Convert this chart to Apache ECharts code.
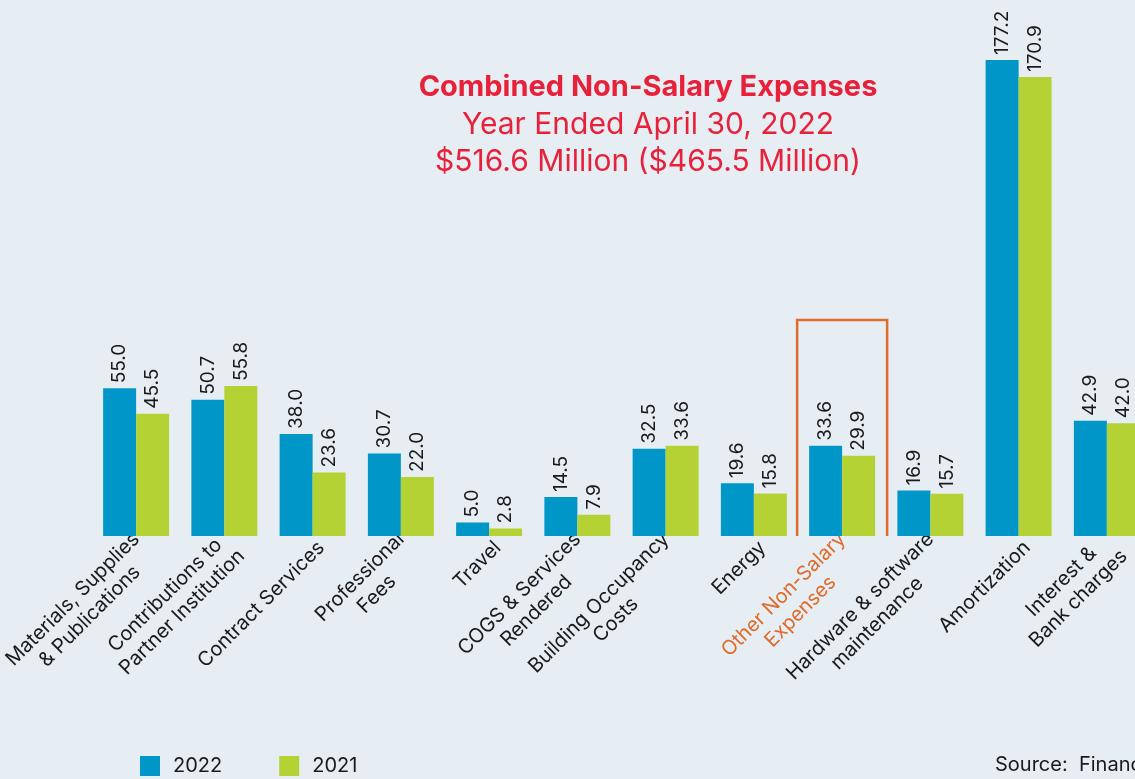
<!DOCTYPE html>
<html>
<head>
<meta charset="utf-8">
<script src="https://cdn.jsdelivr.net/npm/echarts@6/dist/echarts.min.js"></script>
<style>
  html, body { margin: 0; padding: 0; background: #e6eef4; overflow: hidden; }
  #main { width: 1170px; height: 779px; }
</style>
</head>
<body>
<div id="main"></div>
<script>
var categories = [
    'Materials, Supplies\n& Publications',
    'Contributions to\nPartner Institution',
    'Contract Services',
    'Professional\nFees',
    'Travel',
    'COGS & Services\nRendered',
    'Building Occupancy\nCosts',
    'Energy',
    'Other Non-Salary\nExpenses',
    'Hardware & software\nmaintenance',
    'Amortization',
    'Interest &\nBank charges'
];
var values2022 = [55.0, 50.7, 38.0, 30.7, 5.0, 14.5, 32.5, 19.6, 33.6, 16.9, 177.2, 42.9];
var values2021 = [45.5, 55.8, 23.6, 22.0, 2.8, 7.9, 33.6, 15.8, 29.9, 15.7, 170.9, 42.0];
var highlightIndex = 8;

var FONT = 'Inter, "Liberation Sans", sans-serif';
var BLUE = '#0096c8';
var GREEN = '#b4d234';
var ORANGE = '#e06b2a';
var RED = '#e8213a';

var chartDom = document.getElementById('main');
var myChart = echarts.init(chartDom);

// 柱顶的数值标签，竖排
var valueLabel = {
    show: true,
    position: 'top',
    rotate: 90,
    align: 'left',
    verticalAlign: 'middle',
    distance: 5,
    fontSize: 19,
    fontFamily: FONT,
    color: '#1a1a1a',
    formatter: p => p.value.toFixed(1)
};

var option = {
    backgroundColor: '#e6eef4',
    textStyle: { fontFamily: FONT },
    title: {
        text: 'Combined Non-Salary Expenses',
        subtext: 'Year Ended April 30, 2022\n$516.6 Million ($465.5 Million)',
        left: 643,
        top: 68,
        textAlign: 'center',
        itemGap: 4,
        textStyle: { color: RED, fontSize: 29, fontWeight: 'bold', fontFamily: FONT },
        subtextStyle: { color: RED, fontSize: 30, lineHeight: 37, fontFamily: FONT }
    },
    legend: {
        left: 140,
        top: 756,
        padding: 0,
        itemWidth: 20,
        itemHeight: 20,
        itemGap: 57,
        icon: 'rect',
        textStyle: { fontSize: 20, color: '#1a1a1a', padding: [0, 0, 0, 8], fontFamily: FONT },
        data: ['2022', '2021']
    },
    grid: {
        left: 92,
        width: 1059,
        top: 60,
        bottom: 243,
        containLabel: false,
        outerBoundsMode: 'none'
    },
    xAxis: {
        type: 'category',
        data: categories,
        axisLine: { show: false },
        axisTick: { show: false },
        axisLabel: {
            interval: 0,
            rotate: 45,
            margin: 0,
            // 斜排标签整体往右挪一点
            padding: [24, 0, 0, 0],
            fontSize: 20,
            color: '#1a1a1a',
            lineHeight: 24,
            formatter: (v, i) => {
                var key = i === highlightIndex ? 'o' : 'a';
                return v.split('\n').map(s => '{' + key + '|' + s + '}').join('\n');
            },
            rich: {
                a: { align: 'center', fontSize: 20, color: '#1a1a1a', fontFamily: FONT, lineHeight: 24 },
                o: { align: 'center', fontSize: 20, color: ORANGE, fontFamily: FONT, lineHeight: 24 }
            }
        }
    },
    yAxis: {
        type: 'value',
        min: 0,
        max: 177.2,
        show: false,
        splitLine: { show: false }
    },
    series: [
        {
            name: '2022',
            type: 'bar',
            data: values2022,
            barWidth: 33,
            barGap: '0%',
            itemStyle: { color: BLUE },
            label: valueLabel
        },
        {
            name: '2021',
            type: 'bar',
            data: values2021,
            barWidth: 33,
            barGap: '0%',
            itemStyle: { color: GREEN },
            label: valueLabel
        }
    ]
};

myChart.setOption(option);

// 用坐标换算画出“Other Non-Salary Expenses”外面的橙色框
var cx = myChart.convertToPixel({ xAxisIndex: 0 }, categories[highlightIndex]);
var y0 = myChart.convertToPixel({ yAxisIndex: 0 }, 0);
var half = 45;
var boxTop = 320;
myChart.setOption({
    graphic: [
        {
            type: 'polyline',
            shape: { points: [[cx - half, y0], [cx - half, boxTop], [cx + half, boxTop], [cx + half, y0]] },
            style: { stroke: ORANGE, lineWidth: 2.5, fill: null }
        },
        {
            type: 'text',
            left: 995,
            top: 755,
            style: { text: 'Source:  Financial Services', fill: '#1a1a1a', font: '20px ' + FONT }
        }
    ]
});
</script>
</body>
</html>
